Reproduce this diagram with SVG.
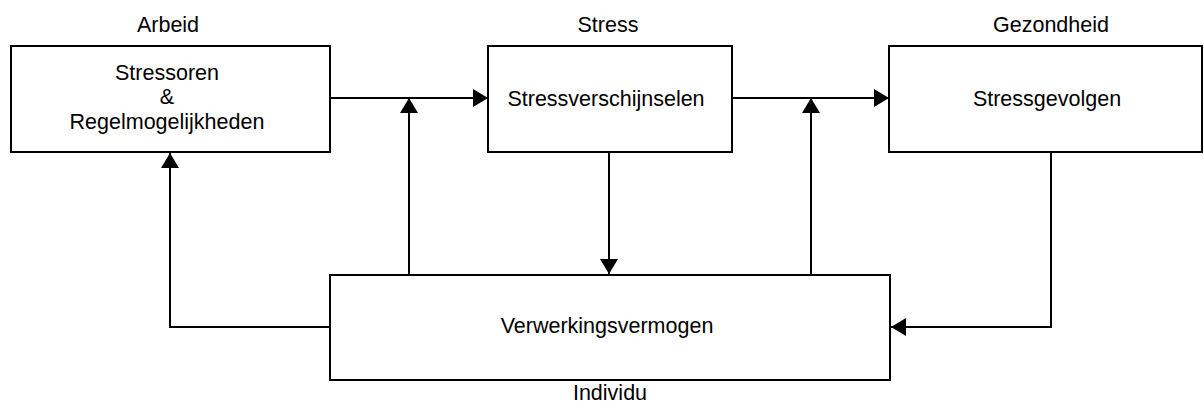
<svg xmlns="http://www.w3.org/2000/svg" width="1204" height="405" viewBox="0 0 1204 405">
<style>
.box{fill:#fff;stroke:#000;stroke-width:2}
.t{font-family:"Liberation Sans",Arial,sans-serif;font-size:21.5px;fill:#000;text-anchor:middle}
.c{fill:none;stroke:#000;stroke-width:2}
</style>
<defs>
<marker id="ah" markerUnits="userSpaceOnUse" markerWidth="16" markerHeight="18" refX="15" refY="9" orient="auto">
<path d="M0,0 L15,9 L0,18 Z" fill="#000"/>
</marker>
</defs>
<rect width="1204" height="405" fill="#fff"/>
<g id="connectors">
<path class="c" d="M330,98 H488" marker-end="url(#ah)"/>
<path class="c" d="M409,275 V98" marker-end="url(#ah)"/>
<path class="c" d="M732,98 H889" marker-end="url(#ah)"/>
<path class="c" d="M811,275 V98" marker-end="url(#ah)"/>
<path class="c" d="M609,152 V274" marker-end="url(#ah)"/>
<path class="c" d="M330,327 H170 V153" marker-end="url(#ah)"/>
<path class="c" d="M1051,152 V327 H891" marker-end="url(#ah)"/>
</g>
<g id="arbeid">
<text class="t" x="168" y="32">Arbeid</text>
<rect class="box" x="11" y="46" width="319" height="106"/>
<text class="t" x="167" y="80">Stressoren</text>
<text class="t" x="167" y="104">&amp;</text>
<text class="t" x="167" y="129">Regelmogelijkheden</text>
</g>
<g id="stress">
<text class="t" x="608" y="32">Stress</text>
<rect class="box" x="488" y="46" width="244" height="106"/>
<text class="t" x="606" y="106">Stressverschijnselen</text>
</g>
<g id="gezondheid">
<text class="t" x="1051" y="32">Gezondheid</text>
<rect class="box" x="889" y="46" width="313" height="106"/>
<text class="t" x="1047" y="106">Stressgevolgen</text>
</g>
<g id="individu">
<rect class="box" x="330" y="275" width="560" height="105"/>
<text class="t" x="607" y="333">Verwerkingsvermogen</text>
<text class="t" x="610" y="400">Individu</text>
</g>
</svg>
